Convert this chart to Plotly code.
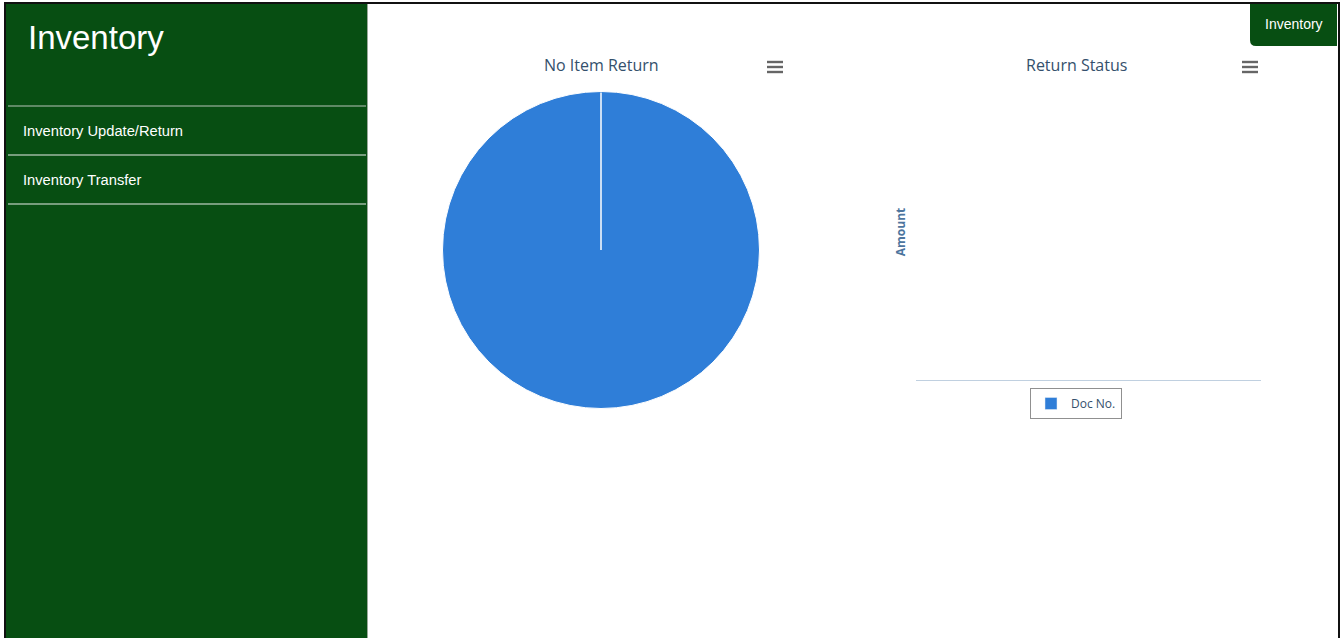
import plotly.graph_objects as go

W, H = 1340, 638

# ---- data ----
pie_labels = ["No Item Return"]
pie_values = [1]
doc_nos = []        # Return Status: no bars
amounts = []
legend_name = "Doc No."
sidebar_title = "Inventory"
menu_items = ["Inventory Update/Return", "Inventory Transfer"]
tab_label = "Inventory"
pie_title = "No Item Return"
bar_title = "Return Status"
y_title = "Amount"

GREEN = "#074E12"
BLUE = "#2f7ed8"
TITLE_C = "#34506c"


def px(x):
    return x / W


def py(y):
    return 1 - y / H


fig = go.Figure()

# pie
pcx, pcy, pr = 601, 250, 158.5
fig.add_trace(go.Pie(
    labels=pie_labels, values=pie_values,
    marker=dict(colors=[BLUE], line=dict(color="white", width=1)),
    textinfo="none", sort=False, direction="clockwise", rotation=0,
    domain=dict(x=[px(pcx - pr), px(pcx + pr)], y=[py(pcy + pr), py(pcy - pr)]),
    showlegend=False, hoverinfo="label+value",
))

# empty bar chart (a null placeholder keeps the series in the legend)
fig.add_trace(go.Bar(
    x=doc_nos if doc_nos else [None], y=amounts if amounts else [None],
    name=legend_name, marker_color=BLUE,
    showlegend=True, xaxis="x", yaxis="y",
))

shapes = []
# outer black frame
shapes.append(dict(type="rect", xref="paper", yref="paper", x0=px(5), x1=px(1339),
                   y0=py(640), y1=py(3), line=dict(color="#111", width=2), layer="above"))
# sidebar
shapes.append(dict(type="rect", xref="paper", yref="paper", x0=px(6), x1=px(367),
                   y0=py(640), y1=py(4), fillcolor=GREEN, line=dict(width=0), layer="below"))
shapes.append(dict(type="line", xref="paper", yref="paper", x0=px(367.5), x1=px(367.5),
                   y0=py(640), y1=py(4), line=dict(color="#9aa89a", width=1), layer="below"))
for yy, c in [(106, "#b8c4b8"), (155, "#e8ece8"), (204, "#e8ece8")]:
    shapes.append(dict(type="line", xref="paper", yref="paper", x0=px(8), x1=px(366),
                       y0=py(yy), y1=py(yy), line=dict(color=c, width=1), layer="below"))
# top-right tab with rounded bottom-left corner
x0, x1, y0, y1, r = 1250, 1337, 4, 46, 6
path = (f"M {px(x0)},{py(y0)} L {px(x1)},{py(y0)} L {px(x1)},{py(y1)} "
        f"L {px(x0 + r)},{py(y1)} Q {px(x0)},{py(y1)} {px(x0)},{py(y1 - r)} Z")
shapes.append(dict(type="path", xref="paper", yref="paper", path=path,
                   fillcolor=GREEN, line=dict(width=0), layer="above"))
# pie slice boundary (start of the single slice at 12 o'clock)
shapes.append(dict(type="line", xref="paper", yref="paper", x0=px(pcx), x1=px(pcx),
                   y0=py(pcy), y1=py(pcy - pr + 1), line=dict(color="white", width=1.5), layer="above"))
# hamburger menu icons
for cx in (775, 1250):
    for dy in (-5, 0, 5):
        shapes.append(dict(type="rect", xref="paper", yref="paper",
                           x0=px(cx - 8), x1=px(cx + 8), y0=py(67 + dy + 1.2), y1=py(67 + dy - 1.2),
                           fillcolor="#666666", line=dict(width=0), layer="above"))

annotations = [
    dict(text=sidebar_title, x=px(26), y=py(38), xref="paper", yref="paper", xanchor="left",
         yanchor="middle", showarrow=False, font=dict(family="Liberation Sans, Arial", size=33, color="white")),
    dict(text=tab_label, x=px(1294), y=py(24), xref="paper", yref="paper", xanchor="center",
         yanchor="middle", showarrow=False, font=dict(family="Liberation Sans, Arial", size=14, color="white")),
    dict(text=pie_title, x=px(601), y=py(65), xref="paper", yref="paper", xanchor="center",
         yanchor="middle", showarrow=False, font=dict(family="Open Sans", size=16, color=TITLE_C)),
    dict(text=bar_title, x=px(1076), y=py(65), xref="paper", yref="paper", xanchor="center",
         yanchor="middle", showarrow=False, font=dict(family="Open Sans", size=16, color=TITLE_C)),
]
for i, item in enumerate(menu_items):
    annotations.append(dict(text=item, x=px(21), y=py(131 + 49 * i), xref="paper", yref="paper",
                            xanchor="left", yanchor="middle", showarrow=False,
                            font=dict(family="Liberation Sans, Arial", size=14.7, color="white")))

fig.update_layout(
    width=W, height=H, autosize=False,
    margin=dict(l=0, r=0, t=0, b=0),
    paper_bgcolor="white", plot_bgcolor="white",
    shapes=shapes, annotations=annotations,
    xaxis=dict(domain=[px(916), px(1261)], range=[0, 1], showline=True, linecolor="#C0D0E0", linewidth=1,
               showgrid=False, zeroline=False, showticklabels=False, ticks="", fixedrange=True),
    yaxis=dict(domain=[py(380), py(84)], range=[0, 1], showline=False, showgrid=False,
               zeroline=False, showticklabels=False, ticks="",
               title=dict(text=f"<b>{y_title}</b>", standoff=6,
                          font=dict(family="Open Sans", size=12, color="#4d759e")),
               fixedrange=True),
    legend=dict(x=px(1076), y=py(388), xanchor="center", yanchor="top", orientation="h",
                bordercolor="#909090", borderwidth=1, bgcolor="white",
                font=dict(family="Open Sans", size=12, color=TITLE_C), itemwidth=30),
)

fig.write_html("out.html", config=dict(displayModeBar=False))
